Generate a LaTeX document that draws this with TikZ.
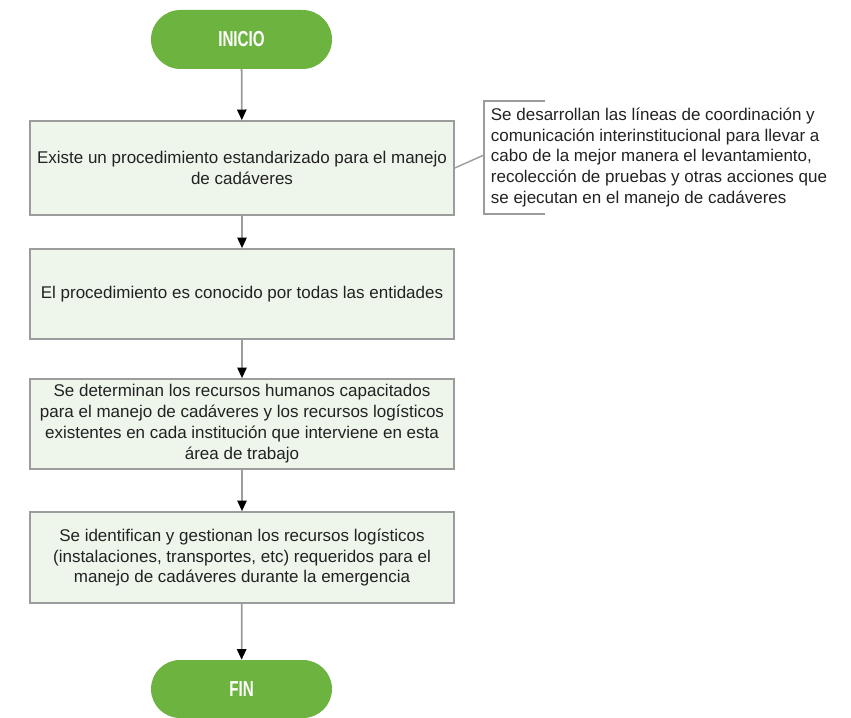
\documentclass[tikz,border=0pt]{standalone}
\usepackage{fontspec}
\setmainfont{Liberation Sans}
\newfontfamily\condfont[FakeStretch=0.7]{Liberation Sans}
\usetikzlibrary{arrows.meta}
\definecolor{termgreen}{HTML}{6DB33F}
\definecolor{boxfill}{HTML}{EEF6EC}
\definecolor{boxline}{HTML}{9C9C9C}
\definecolor{txt}{HTML}{222222}

\tikzset{
  terminal/.style={rounded corners=0.885cm, fill=termgreen, draw=none,
    minimum width=5.43cm, minimum height=1.77cm, text=white,
    font=\condfont\bfseries\fontsize{18.5}{20}\selectfont},
  process/.style={draw=boxline, line width=1.4pt, fill=boxfill,
    minimum width=12.72cm, minimum height=2.7cm, align=center, text=txt,
    font=\fontsize{14.5}{17.9}\selectfont},
  link/.style={draw=boxline, line width=1.5pt,
    -{Triangle[width=0.28cm,length=0.32cm,color=black]}}
}

\begin{document}
\begin{tikzpicture}

\useasboundingbox (0,0) rectangle (25.53,-21.51);

\node[terminal] (start) at (7.245,-1.185) {INICIO};

\node[process, minimum height=2.82cm] (b1) at (7.26,-5.04)
  {Existe un procedimiento estandarizado para el manejo\\de cadáveres};
\node[process] (b2) at (7.26,-8.82)
  {El procedimiento es conocido por todas las entidades};
\node[process] (b3) at (7.26,-12.72)
  {Se determinan los recursos humanos capacitados\\para el manejo de cadáveres y los recursos logísticos\\existentes en cada institución que interviene en esta\\área de trabajo};
\node[process, minimum height=2.73cm] (b4) at (7.26,-16.725)
  {Se identifican y gestionan los recursos logísticos\\(instalaciones, transportes, etc) requeridos para el\\manejo de cadáveres durante la emergencia};

\node[terminal, minimum height=1.74cm, rounded corners=0.87cm] (stop) at (7.245,-20.67) {FIN};

\draw[link] (start) -- (b1);
\draw[link] (b1) -- (b2);
\draw[link] (b2) -- (b3);
\draw[link] (b3) -- (b4);
\draw[link] (b4) -- (stop);

% annotation
\coordinate (notetop) at (16.35,-3.03);
\coordinate (notebot) at (16.35,-6.42);
\coordinate (notepoint) at (14.52,-4.65);
\draw[boxline, line width=1.2pt] (notetop) -- (14.52,-3.03) -- (14.52,-6.42) -- (notebot);
\draw[boxline, line width=1.2pt] (b1.east) -- (notepoint);
\node[anchor=west, align=left, inner sep=0pt, text=txt,
  font=\fontsize{14.5}{17.9}\selectfont] (note) at (14.72,-4.725)
  {Se desarrollan las líneas de coordinación y\\comunicación interinstitucional para llevar a\\cabo de la mejor manera el levantamiento,\\recolección de pruebas y otras acciones que\\se ejecutan en el manejo de cadáveres};

\end{tikzpicture}
\end{document}
